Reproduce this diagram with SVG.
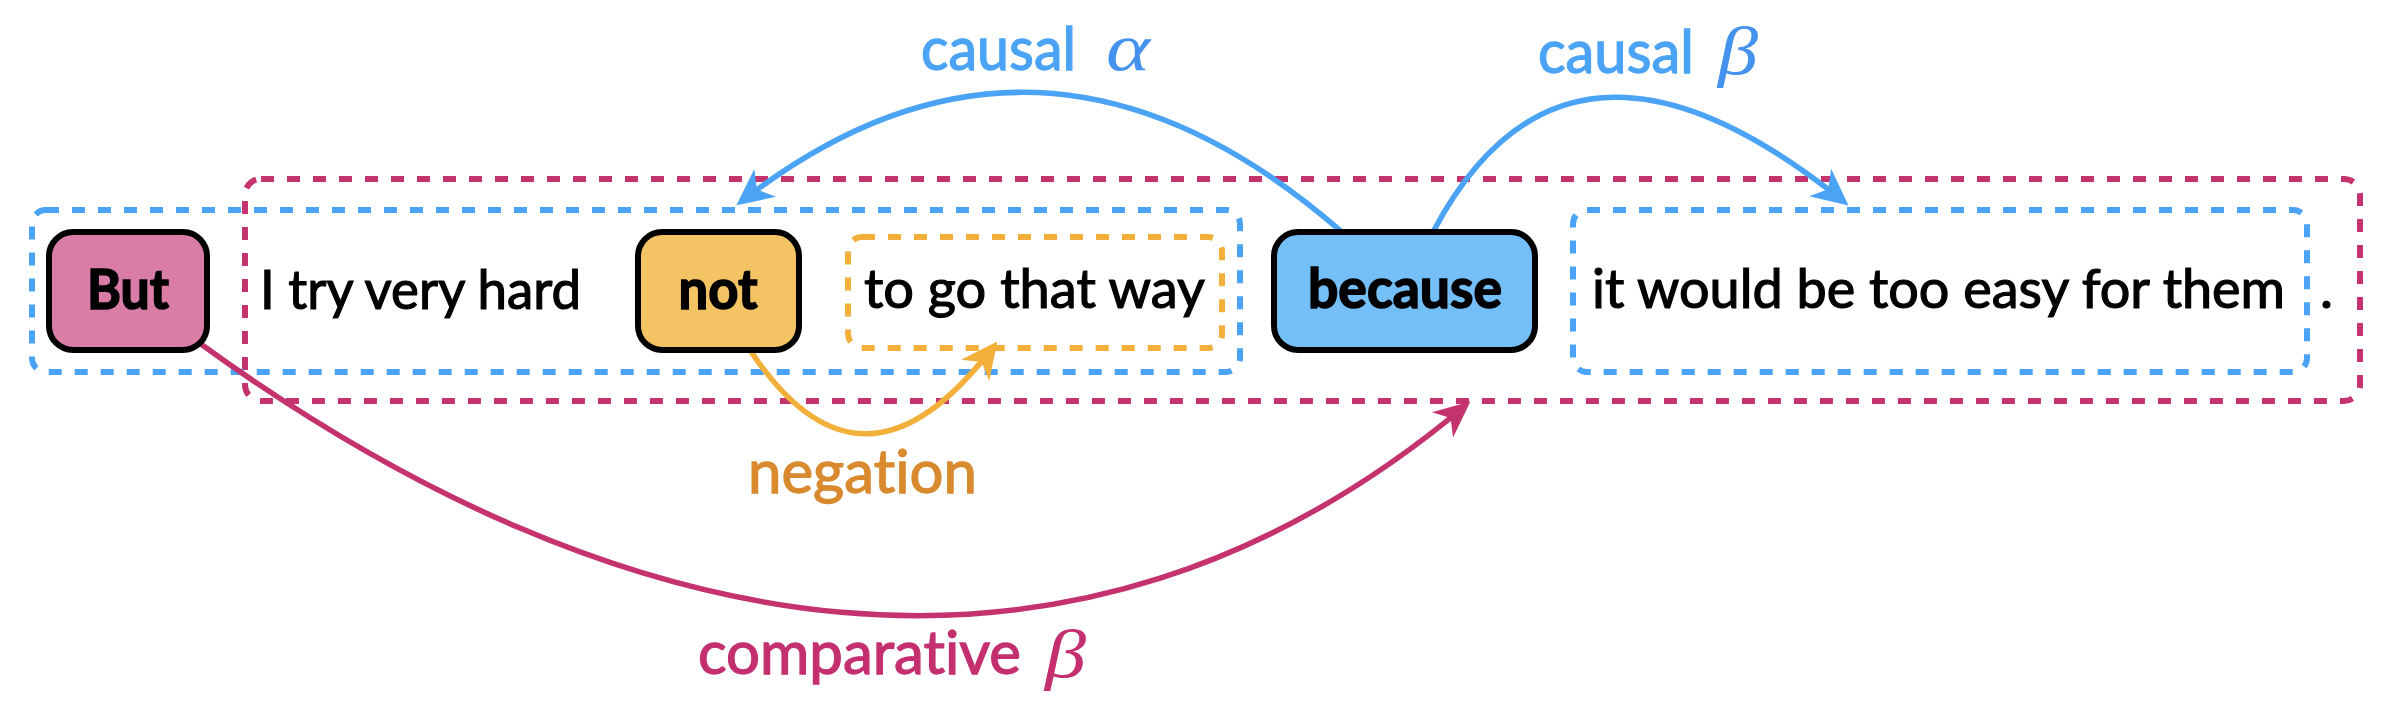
<svg xmlns="http://www.w3.org/2000/svg" width="2392" height="716" viewBox="0 0 2392 716">
<style>
.grp{fill:none;stroke-width:6;stroke-dasharray:13 13}
.gm{stroke:#C4336E}
.gb{stroke:#4BA3F5}
.go{stroke:#F2B03A}
.node{stroke:#000;stroke-width:6}
.txt{font-family:Lato,"Noto Sans","Liberation Sans",sans-serif;font-size:55px;fill:#000;stroke:#000;stroke-width:1.2;font-variant-ligatures:none}
.bold{font-weight:bold;text-anchor:middle;stroke-width:1.6}
.lbl{font-family:Lato,"Noto Sans","Liberation Sans",sans-serif;font-size:60px;stroke-width:1.3;font-variant-ligatures:none}
.greek{font-family:"Liberation Serif","DejaVu Serif",serif;font-style:italic;font-size:68px}
.conn{fill:none;stroke-width:5.5}
</style>
<defs>
<marker id="ab" markerUnits="userSpaceOnUse" orient="auto" refX="0" refY="0" markerWidth="40" markerHeight="40" viewBox="-26 -16 34 32" overflow="visible"><path d="M6,0 L-25,-15 L-16,0 L-25,15 Z" fill="#4BA3F5"/></marker>
<marker id="ao" markerUnits="userSpaceOnUse" orient="auto" refX="0" refY="0" markerWidth="40" markerHeight="40" viewBox="-26 -16 34 32" overflow="visible"><path d="M6,0 L-25,-15 L-16,0 L-25,15 Z" fill="#F2B03A"/></marker>
<marker id="am" markerUnits="userSpaceOnUse" orient="auto" refX="0" refY="0" markerWidth="40" markerHeight="40" viewBox="-26 -16 34 32" overflow="visible"><path d="M6,0 L-25,-14 L-16,0 L-25,14 Z" fill="#C4336E"/></marker>
</defs>
<g id="group-sentence"><rect class="grp gm" x="245" y="179" width="2115" height="222" rx="16"/></g>
<g id="group-clause-a"><rect class="grp gb" x="32" y="210" width="1208" height="162" rx="14"/></g>
<g id="group-clause-b"><rect class="grp gb" x="1573" y="210" width="734" height="162" rx="14"/></g>
<g id="group-negated"><rect class="grp go" x="848" y="237" width="374" height="111" rx="14"/></g>
<g id="connectors">
<path class="conn" stroke="#4BA3F5" d="M1342,232 Q1040,-31 742,201" marker-end="url(#ab)"/>
<path class="conn" stroke="#4BA3F5" d="M1433,232 Q1567,-21 1843,201" marker-end="url(#ab)"/>
<path class="conn" stroke="#F2B03A" d="M750,350 Q862,519 993,347" marker-end="url(#ao)"/>
<path class="conn" stroke="#C4336E" d="M198,342 C618.7,647.6 1071.7,736 1465,406" marker-end="url(#am)"/>
</g>
<g id="node-but"><rect class="node" x="49" y="232" width="158" height="118" rx="24" fill="#D97CA6"/><text class="txt bold" x="128" y="309" textLength="82" lengthAdjust="spacingAndGlyphs">But</text></g>
<g id="text-itry"><text class="txt" x="260" y="309" textLength="321" lengthAdjust="spacingAndGlyphs">I try very hard</text></g>
<g id="node-not"><rect class="node" x="638" y="232" width="161" height="118" rx="24" fill="#F4C363"/><text class="txt bold" x="718" y="309" textLength="79" lengthAdjust="spacingAndGlyphs">not</text></g>
<g id="text-togo"><text class="txt" x="864" y="308" textLength="341" lengthAdjust="spacingAndGlyphs">to go that way</text></g>
<g id="node-because"><rect class="node" x="1274" y="232" width="261" height="118" rx="24" fill="#74BFF8"/><text class="txt bold" x="1405" y="308" textLength="194" lengthAdjust="spacingAndGlyphs">because</text></g>
<g id="text-itwould"><text class="txt" x="1592" y="308" textLength="693" lengthAdjust="spacingAndGlyphs">it would be too easy for them</text></g>
<g id="text-period"><text class="txt" x="2320" y="308">.</text></g>
<g id="labels">
<text class="lbl" fill="#4BA3F5" stroke="#4BA3F5" x="921" y="70" font-size="62" textLength="155" lengthAdjust="spacingAndGlyphs">causal</text>
<text class="greek" fill="#4492EE" x="1106" y="70" font-size="78" textLength="44" lengthAdjust="spacingAndGlyphs">α</text>
<text class="lbl" fill="#4BA3F5" stroke="#4BA3F5" x="1538" y="73" font-size="62" textLength="156" lengthAdjust="spacingAndGlyphs">causal</text>
<text class="greek" fill="#4492EE" x="1718" y="74" textLength="40" lengthAdjust="spacingAndGlyphs">β</text>
<text class="lbl" fill="#D98A2E" stroke="#D98A2E" x="748" y="493" textLength="229" lengthAdjust="spacingAndGlyphs">negation</text>
<text class="lbl" fill="#C4306F" stroke="#C4306F" x="698" y="674" textLength="323" lengthAdjust="spacingAndGlyphs">comparative</text>
<text class="greek" fill="#C4306F" x="1045" y="677" textLength="41" lengthAdjust="spacingAndGlyphs">β</text>
</g>
</svg>
